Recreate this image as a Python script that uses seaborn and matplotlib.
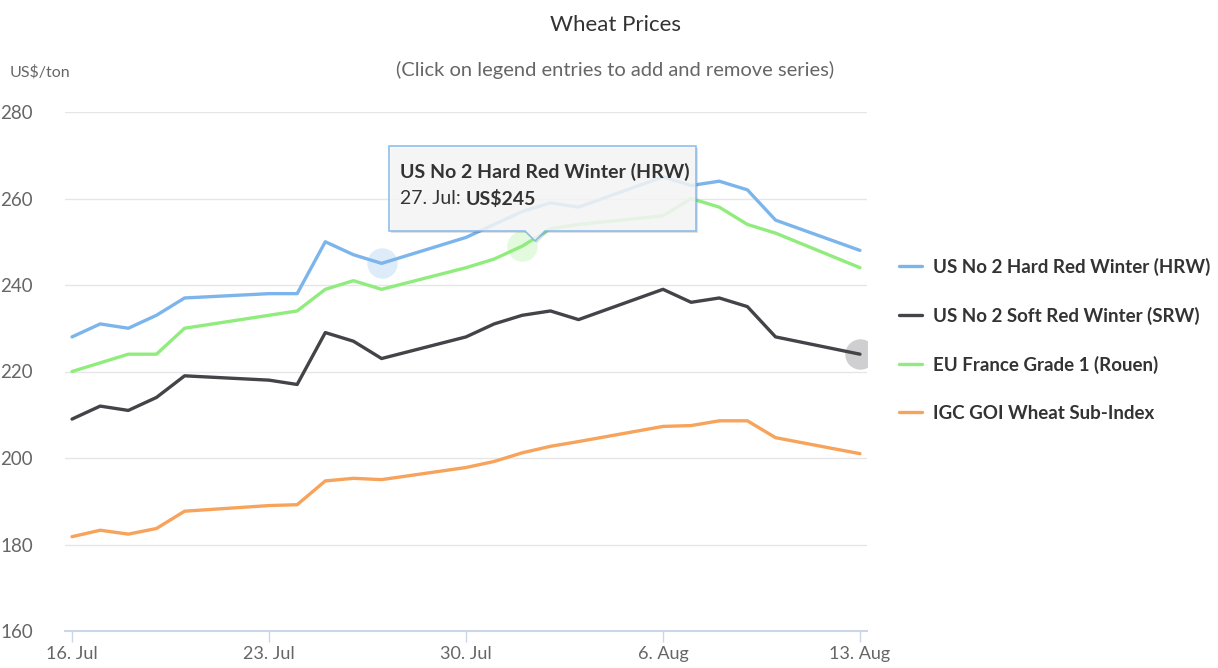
import pandas as pd
import matplotlib
matplotlib.use("Agg")
import matplotlib.pyplot as plt
import seaborn as sns
from matplotlib.patches import Polygon

# 資料
dates = ["2018-07-16", "2018-07-17", "2018-07-18", "2018-07-19", "2018-07-20",
         "2018-07-23", "2018-07-24", "2018-07-25", "2018-07-26", "2018-07-27",
         "2018-07-30", "2018-07-31", "2018-08-01", "2018-08-02", "2018-08-03",
         "2018-08-06", "2018-08-07", "2018-08-08", "2018-08-09", "2018-08-10",
         "2018-08-13"]
hrw = [228, 231, 230, 233, 237, 238, 238, 250, 247, 245, 251, 254, 257, 259, 258,
       265, 263, 264, 262, 255, 248]
srw = [209, 212, 211, 214, 219, 218, 217, 229, 227, 223, 228, 231, 233, 234, 232,
       239, 236, 237, 235, 228, 224]
eu_france = [220, 222, 224, 224, 230, 233, 234, 239, 241, 239, 244, 246, 249, 253, 254,
             256, 260, 258, 254, 252, 244]
igc_goi = [181.8, 183.3, 182.4, 183.7, 187.7, 189.0, 189.2, 194.7, 195.3, 195.0,
           197.8, 199.2, 201.2, 202.7, 203.8, 207.3, 207.5, 208.6, 208.6, 204.7, 201.0]

series_names = ["US No 2 Hard Red Winter (HRW)", "US No 2 Soft Red Winter (SRW)",
                "EU France Grade 1 (Rouen)", "IGC GOI Wheat Sub-Index"]
colors = ["#7cb5ec", "#434348", "#90ed7d", "#f7a35c"]
tick_dates = ["2018-07-16", "2018-07-23", "2018-07-30", "2018-08-06", "2018-08-13"]
tick_labels = ["16. Jul", "23. Jul", "30. Jul", "6. Aug", "13. Aug"]
y_ticks = [160, 180, 200, 220, 240, 260, 280]

df = pd.DataFrame({"date": pd.to_datetime(dates)})
for name, vals in zip(series_names, [hrw, srw, eu_france, igc_goi]):
    df[name] = vals
long = df.melt(id_vars="date", var_name="series", value_name="price")

sns.set_theme(style="white")
plt.rcParams["font.family"] = ["Lato", "DejaVu Sans"]

W, H = 1218, 668
fig = plt.figure(figsize=(W / 100, H / 100), dpi=100)
ax = fig.add_axes([65 / W, 1 - 631 / H, (867 - 65) / W, (631 - 112) / H])

def px(x, y):
    return x / W, 1 - y / H

sns.lineplot(data=long, x="date", y="price", hue="series", hue_order=series_names,
             palette=dict(zip(series_names, colors)), linewidth=2.4, ax=ax)

# hover halos
halo_pts = [("2018-07-27", 245, colors[0]), ("2018-08-01", 249, colors[2]),
            ("2018-08-13", 224, "#434348")]
for d, v, c in halo_pts:
    ax.scatter(pd.Timestamp(d), v, s=480, color=c, alpha=0.25, linewidths=0, zorder=1)

ax.set_ylim(160, 280)
ax.set_xlim(pd.Timestamp("2018-07-16") - pd.Timedelta(hours=6),
            pd.Timestamp("2018-08-13") + pd.Timedelta(hours=6))
ax.set_yticks(y_ticks)
ax.set_xticks(pd.to_datetime(tick_dates))
ax.set_xticklabels(tick_labels)
ax.set_xlabel("")
ax.set_ylabel("")
for yv in y_ticks[1:]:
    ax.axhline(yv, color="#e6e6e6", linewidth=1, zorder=0)
for s in ["top", "right", "left"]:
    ax.spines[s].set_visible(False)
ax.spines["bottom"].set_color("#ccd6eb")
ax.spines["bottom"].set_linewidth(1.5)
ax.tick_params(axis="x", bottom=True, length=8, width=1, color="#ccd6eb",
               labelsize=13, labelcolor="#666666", pad=3)
ax.tick_params(axis="y", left=False, labelsize=13.5, labelcolor="#666666", pad=17)

# legend
leg = ax.legend(loc="center left", bbox_to_anchor=(1.04, 0.561), frameon=False,
                borderaxespad=0, borderpad=0, handlelength=1.2, handletextpad=0.6,
                labelspacing=1.65, fontsize=13.5)
for t in leg.get_texts():
    t.set_fontweight("bold")
    t.set_color("#333333")
for l in leg.get_lines():
    l.set_linewidth(2.4)

# titles
fig.text(*px(615, 25), "Wheat Prices", ha="center", va="center", fontsize=16, color="#333333")
fig.text(*px(615, 70), "(Click on legend entries to add and remove series)",
         ha="center", va="center", fontsize=14.5, color="#666666")
fig.text(*px(10, 72), "US\\$/ton", ha="left", va="center", fontsize=11.5, color="#666666")

# tooltip
box = [(389, 146), (696, 146), (696, 231), (545, 231), (535, 241), (525, 231), (389, 231)]
shadow = Polygon([px(x + 2, y + 2) for x, y in box], closed=True, transform=fig.transFigure,
                 facecolor="#000000", alpha=0.12, edgecolor="none", zorder=5)
tip = Polygon([px(x, y) for x, y in box], closed=True, transform=fig.transFigure,
              facecolor="#f9f9f9", alpha=0.85, edgecolor="#7cb5ec", linewidth=1.2, zorder=6)
fig.patches.extend([shadow, tip])
fig.text(*px(400, 172), "US No 2 Hard Red Winter (HRW)", ha="left", va="center",
         fontsize=14, fontweight="bold", color="#333333", zorder=7)
t1 = fig.text(*px(400, 199), "27. Jul: ", ha="left", va="center", fontsize=14,
              color="#333333", zorder=7)
fig.canvas.draw()
bb = t1.get_window_extent()
fig.text(bb.x1 / W, 1 - 199 / H, "US\\$245", ha="left", va="center", fontsize=14,
         fontweight="bold", color="#333333", zorder=7)

fig.savefig("out.png", dpi=100)
